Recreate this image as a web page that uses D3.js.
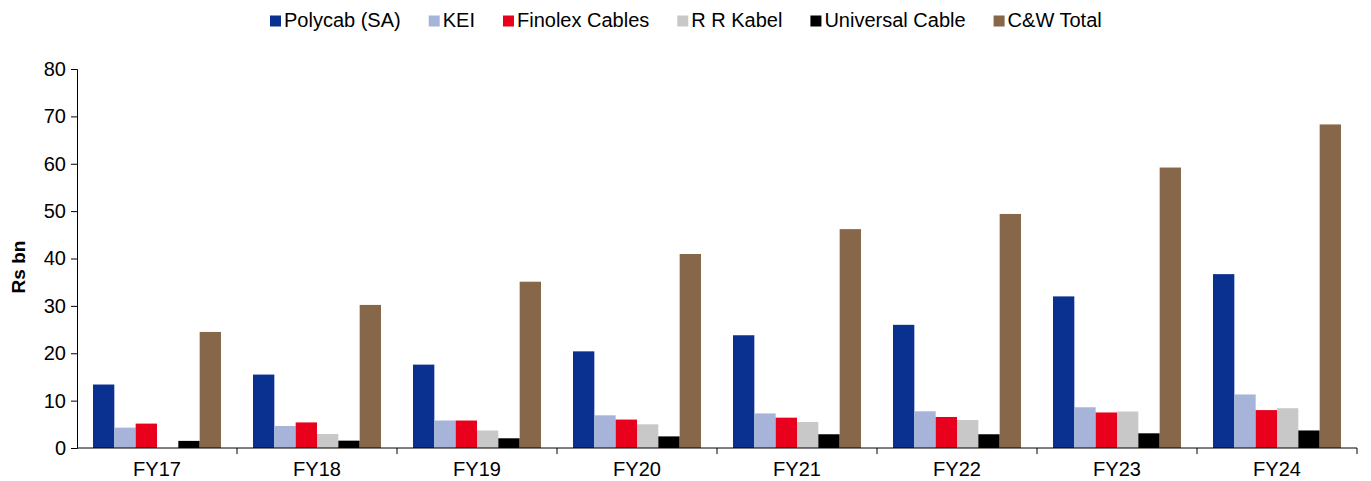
<!DOCTYPE html>
<html><head><meta charset="utf-8">
<script src="https://cdn.jsdelivr.net/npm/d3@7"></script>
<style>body{margin:0;background:#fff}svg{display:block;font-family:"Liberation Sans",Arial,sans-serif}</style>
</head><body>
<svg id="c" width="1371" height="481"></svg>
<script>
const categories = ["FY17","FY18","FY19","FY20","FY21","FY22","FY23","FY24"];
const seriesNames = ["Polycab (SA)","KEI","Finolex Cables","R R Kabel","Universal Cable","C&W Total"];
const polycab   = [13.4,15.5,17.6,20.4,23.8,26.0,32.0,36.7];
const kei       = [4.3,4.65,5.8,6.9,7.3,7.75,8.6,11.3];
const finolex   = [5.15,5.4,5.8,6.0,6.4,6.55,7.5,8.0];
const rrKabel   = [0,2.95,3.7,5.0,5.5,5.9,7.7,8.4];
const universal = [1.5,1.55,2.05,2.45,2.9,2.9,3.1,3.7];
const cwTotal   = [24.5,30.2,35.1,40.95,46.2,49.4,59.2,68.3];
const yTicks = [0,10,20,30,40,50,60,70,80];
const colors = ["#0a318f","#a6b4d9","#e8001c","#c8c8c8","#000000","#87674a"];
const seriesValues = [polycab,kei,finolex,rrKabel,universal,cwTotal];

const svg = d3.select("#c");
const mLeft = 77, mRight = 1357, mTop = 69, mBottom = 448;
const x = d3.scaleBand().domain(categories).range([mLeft,mRight]).paddingInner(0).paddingOuter(0);
const x1 = d3.scaleBand().domain(seriesNames).range([0,x.bandwidth()]).paddingOuter(0.75).paddingInner(0);
const y = d3.scaleLinear().domain([0,80]).range([mBottom,mTop]);

// bars
seriesNames.forEach((s,i)=>{
  svg.append("g").selectAll("rect").data(categories).join("rect")
    .attr("x",c=>x(c)+x1(s))
    .attr("y",(c,j)=>y(seriesValues[i][j]))
    .attr("width",x1.bandwidth())
    .attr("height",(c,j)=>y(0)-y(seriesValues[i][j]))
    .attr("fill",colors[i]);
});

// y axis
const ya = svg.append("g").attr("transform",`translate(${mLeft},0)`)
  .call(d3.axisLeft(y).tickValues(yTicks).tickSize(6).tickPadding(5));
ya.select(".domain").attr("stroke","#000");
ya.selectAll("text").attr("font-size",20).attr("fill","#000").style("font-family","Liberation Sans, Arial, sans-serif");

// x axis
const xa = svg.append("g").attr("transform",`translate(0,${mBottom})`);
xa.append("line").attr("x1",mLeft).attr("x2",mRight).attr("y1",0).attr("y2",0).attr("stroke","#000");
const bounds = categories.map(c=>x(c)+x.bandwidth());
xa.selectAll("line.t").data(bounds).join("line").attr("class","t")
  .attr("x1",d=>d).attr("x2",d=>d).attr("y1",0).attr("y2",6).attr("stroke","#000");
xa.selectAll("text").data(categories).join("text")
  .attr("x",c=>x(c)+x.bandwidth()/2).attr("y",28)
  .attr("text-anchor","middle").attr("font-size",20).text(c=>c);

// y label
svg.append("text").attr("transform","translate(25,267) rotate(-90)")
  .attr("text-anchor","middle").attr("font-size",19).attr("font-weight","bold").text("Rs bn");

// legend
const lg = svg.append("g");
let lx = 270;
seriesNames.forEach((s,i)=>{
  lg.append("rect").attr("x",lx).attr("y",15.5).attr("width",11).attr("height",11).attr("fill",colors[i]);
  const t = lg.append("text").attr("x",lx+14).attr("y",27).attr("font-size",20).text(s);
  lx += 14 + t.node().getComputedTextLength() + 28;
});
</script>
</body></html>
